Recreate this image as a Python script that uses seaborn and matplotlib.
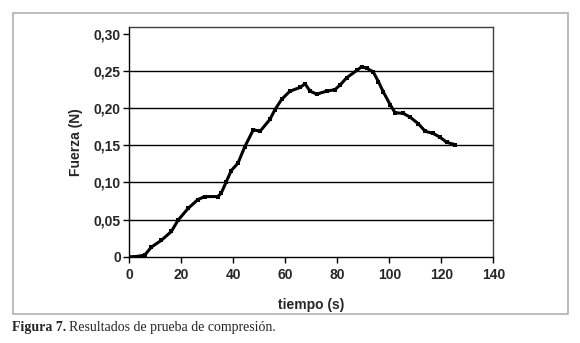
import matplotlib
matplotlib.use('Agg')
import matplotlib.pyplot as plt
import seaborn as sns
import pandas as pd
from matplotlib.patches import Rectangle

# datos (tiempo en s, fuerza en N)
tiempo = [0, 2.1, 5.9, 8.5, 12.3, 16.2, 18.7, 22.6, 26.4, 29.0, 34.1, 35.4,
          37.3, 39.2, 41.8, 44.4, 47.7, 50.3, 54.1, 56.0, 58.6, 61.8, 65.7,
          67.6, 69.5, 72.1, 75.9, 79.1, 81.0, 83.6, 87.5, 89.4, 91.3, 93.8,
          95.8, 97.7, 100.3, 102.2, 105.4, 108.0, 111.2, 113.8, 116.9, 119.5,
          122.1, 125.3]
fuerza = [0, 0, 0.002, 0.013, 0.022, 0.034, 0.049, 0.065, 0.077, 0.081,
          0.081, 0.086, 0.101, 0.116, 0.126, 0.148, 0.171, 0.169, 0.185,
          0.198, 0.212, 0.223, 0.228, 0.233, 0.223, 0.219, 0.223, 0.225,
          0.231, 0.241, 0.251, 0.256, 0.254, 0.249, 0.236, 0.222, 0.205,
          0.194, 0.193, 0.188, 0.179, 0.169, 0.166, 0.161, 0.154, 0.151]
x_ticks = [0, 20, 40, 60, 80, 100, 120, 140]
y_ticks = [0, 0.05, 0.10, 0.15, 0.20, 0.25, 0.30]
y_labels = ['0', '0,05', '0,10', '0,15', '0,20', '0,25', '0,30']

df = pd.DataFrame({'tiempo': tiempo, 'fuerza': fuerza})

sns.set_style('white')
plt.rcParams['font.family'] = ['Liberation Sans', 'DejaVu Sans']

fig = plt.figure(figsize=(5.8, 3.43), dpi=100)
ax = fig.add_axes([129.3 / 580, 1 - 256.7 / 343, (493.3 - 129.3) / 580, (256.7 - 26.7) / 343])

# marco gris exterior
fig.patches.append(Rectangle((12.5 / 580, 1 - 314 / 343), (567.5 - 12.5) / 580, (314 - 13) / 343,
                             transform=fig.transFigure, fill=False, edgecolor='#b0b0b0', lw=1.2))

for v in y_ticks[1:-1]:
    ax.axhline(v, color='black', lw=1.0, zorder=1)

sns.lineplot(data=df, x='tiempo', y='fuerza', ax=ax, color='black', lw=2.2,
             marker='s', markersize=2.8, markeredgewidth=0, zorder=3)

ax.set_xlim(0, 140)
ax.set_ylim(0, 0.30 + 7.3 / 742.8)
ax.set_xticks(x_ticks)
ax.set_xticklabels([str(v) for v in x_ticks], fontsize=10, fontweight='bold')
ax.set_yticks(y_ticks)
ax.set_yticklabels(y_labels, fontsize=10, fontweight='bold')
ax.tick_params(axis='x', direction='out', length=4, width=1, color='black', pad=4, bottom=True)
ax.tick_params(axis='y', direction='out', length=4, width=1, color='black', pad=2, left=True)

for s in ax.spines.values():
    s.set_color('#404040')
    s.set_linewidth(1.0)
ax.spines['left'].set_color('black')
ax.spines['bottom'].set_color('black')

ax.set_xlabel('tiempo (s)', fontsize=10, fontweight='bold', labelpad=12)
ax.set_ylabel('Fuerza (N)', fontsize=10, fontweight='bold', labelpad=8)

t1 = fig.text(12 / 580, 1 - 327 / 343, 'Figura 7.', family='Liberation Serif',
              fontsize=10, fontweight='bold', va='center', ha='left')
fig.canvas.draw()
bb = t1.get_window_extent()
fig.text(bb.x1 / fig.bbox.width + 3 / 580, 1 - 327 / 343, 'Resultados de prueba de compresión.',
         family='Liberation Serif', fontsize=10, va='center', ha='left')

fig.savefig('out.png', dpi=100)
